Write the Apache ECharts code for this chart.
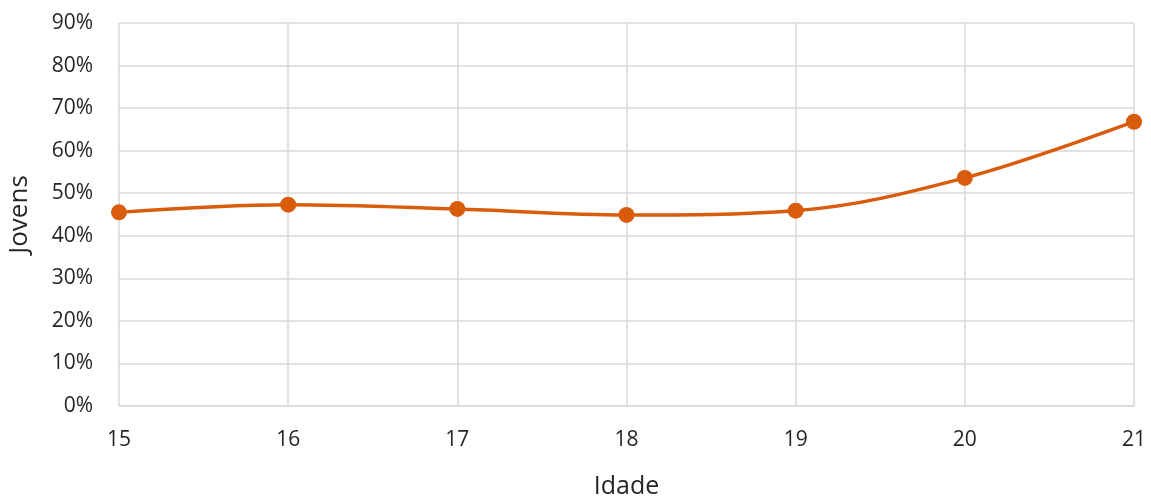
<!DOCTYPE html>
<html>
<head>
<meta charset="utf-8">
<script src="https://cdn.jsdelivr.net/npm/echarts@6/dist/echarts.min.js"></script>
<style>
html,body{margin:0;padding:0;background:#fff;}
#chart{width:1151px;height:499px;}
</style>
</head>
<body>
<div id="chart"></div>
<script>
const ages = [15, 16, 17, 18, 19, 20, 21];
const shares = [45.5, 47.3, 46.3, 44.9, 45.9, 53.6, 66.8];
const xTitle = 'Idade';
const yTitle = 'Jovens';

const chart = echarts.init(document.getElementById('chart'));
const font = '"Open Sans", "Noto Sans", sans-serif';
chart.setOption({
  animation: false,
  grid: {left: 119, right: 17, top: 23, bottom: 93, containLabel: false, outerBoundsMode: 'none'},
  xAxis: {
    type: 'value', min: 15, max: 21, interval: 1,
    name: xTitle, nameLocation: 'middle', nameGap: 68,
    nameTextStyle: {fontFamily: font, fontSize: 25, color: '#262626'},
    axisLine: {show: true, lineStyle: {color: '#d9d9d9', width: 1.5}},
    axisTick: {show: false},
    axisLabel: {fontFamily: font, fontSize: 21, color: '#262626', margin: 24},
    splitLine: {show: true, lineStyle: {color: '#d9d9d9', width: 1.5}}
  },
  yAxis: {
    type: 'value', min: 0, max: 90, interval: 10,
    name: yTitle, nameLocation: 'middle', nameGap: 86,
    nameTextStyle: {fontFamily: font, fontSize: 26, color: '#262626'},
    axisLine: {show: false},
    axisTick: {show: false},
    axisLabel: {fontFamily: font, fontSize: 21, color: '#262626', margin: 26, formatter: v => v + '%'},
    splitLine: {show: true, lineStyle: {color: '#d9d9d9', width: 1.5}}
  },
  series: [{
    type: 'line',
    data: ages.map((a, i) => [a, shares[i]]),
    smooth: 0.35,
    symbol: 'circle', symbolSize: 16,
    lineStyle: {color: '#d95b0c', width: 3.5},
    itemStyle: {color: '#d95b0c'}
  }]
});
</script>
</body>
</html>
